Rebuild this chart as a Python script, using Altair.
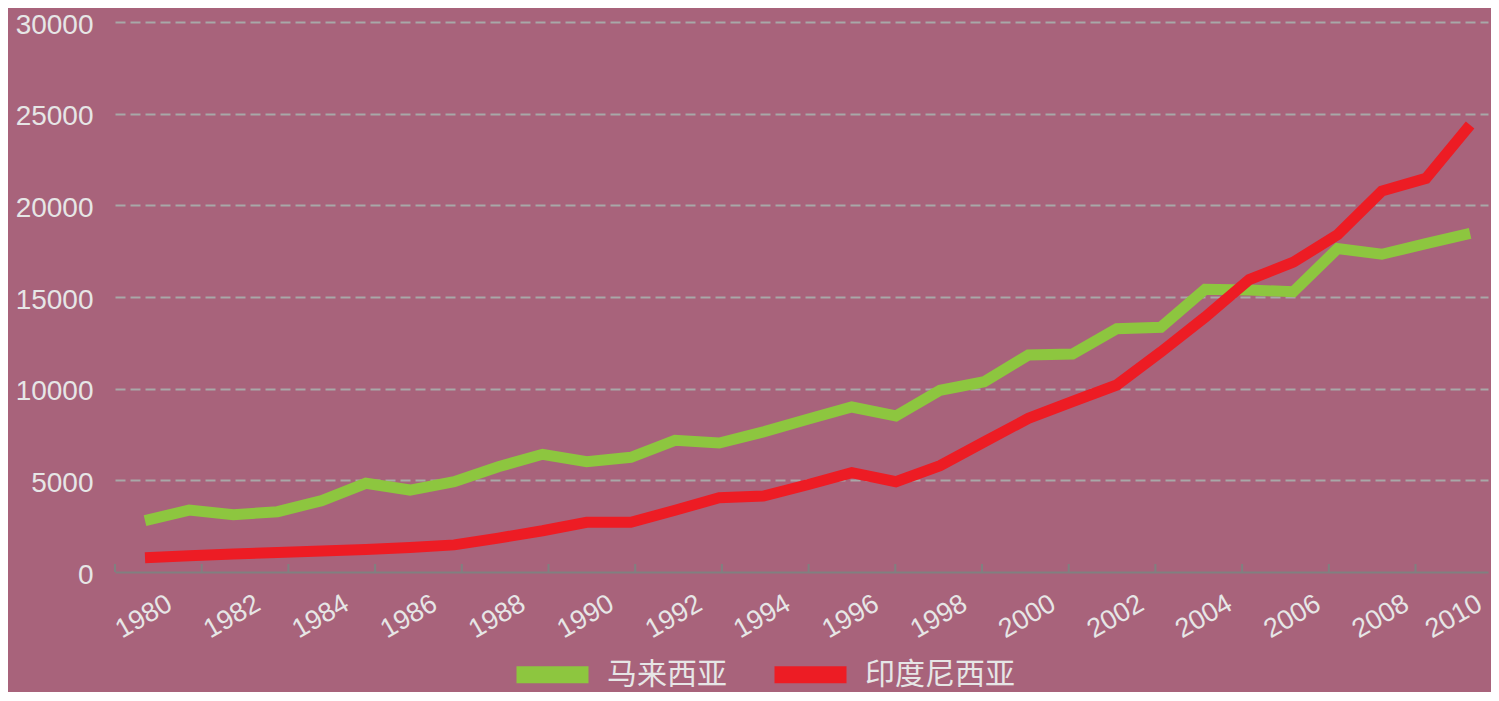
import altair as alt
import pandas as pd

# ---------------- data ----------------
years = list(range(1980, 2011))
malaysia = [2800, 3380, 3125, 3290, 3890, 4840, 4470, 4925, 5745, 6420,
            6020, 6255, 7180, 7035, 7640, 8330, 9000, 8510, 9910, 10380,
            11840, 11890, 13270, 13350, 15420, 15380, 15290, 17640, 17330, 17910,
            18475]
indonesia = [780, 880, 980, 1060, 1140, 1230, 1340, 1480, 1850, 2250,
             2710, 2710, 3365, 4055, 4145, 4760, 5420, 4925, 5800, 7100,
             8380, 9300, 10200, 12000, 13900, 15950, 16900, 18400, 20780, 21470,
             24380]
series_names = ["马来西亚", "印度尼西亚"]
series_colors = ["#8DC63F", "#ED1C24"]
x_label_years = list(range(1980, 2011, 2))
y_tick_values = [0, 5000, 10000, 15000, 20000, 25000, 30000]
x_tick_index = list(range(16))

rows = []
for yr, m in zip(years, malaysia):
    rows.append({"year": yr, "country": series_names[0], "value": m})
for yr, v in zip(years, indonesia):
    rows.append({"year": yr, "country": series_names[1], "value": v})
df = pd.DataFrame(rows)
ticks_df = pd.DataFrame({"k": x_tick_index})

# ---------------- style ----------------
W, H = 1373, 550
BG = "#A8637B"
TEXT = "#E6E6E6"
AXIS_GRAY = "#808080"
GRID_GRAY = "#A8A8A8"
year_px = 44.17
x_left = 1980 - 30 / year_px
x_right = x_left + W / year_px
tick_px = 86.7

lines = alt.Chart(df).mark_line(strokeWidth=11).encode(
    x=alt.X(
        "year:Q",
        scale=alt.Scale(domain=[x_left, x_right], nice=False, zero=False),
        axis=alt.Axis(
            values=x_label_years, format="d", title=None,
            labelAngle=-30, labelAlign="right", labelBaseline="top",
            labelOffset={"condition": {"test": "datum.value === 2010", "value": 3}, "value": 18},
            labelPadding=18, ticks=False, tickSize=0,
            domain=False, grid=False, labelFontSize=27,
            labelFont="Liberation Sans", labelColor=TEXT,
            labelOverlap=False, labelFlush=False, labelBound=False,
        ),
    ),
    y=alt.Y(
        "value:Q",
        scale=alt.Scale(domain=[0, 30000], nice=False),
        axis=alt.Axis(
            values=y_tick_values, format="d", title=None,
            grid=True, gridWidth=2,
            gridDash={"condition": {"test": "datum.value === 0", "value": [1, 0]}, "value": [10, 5]},
            gridColor={"condition": {"test": "datum.value === 0", "value": AXIS_GRAY}, "value": GRID_GRAY},
            ticks=False, tickSize=0, domain=False, labelPadding=22,
            labelOffset=3,
            labelFontSize=28, labelFont="Liberation Sans", labelColor=TEXT,
            labelOverlap=False,
        ),
    ),
    color=alt.Color(
        "country:N",
        scale=alt.Scale(domain=series_names, range=series_colors),
        legend=alt.Legend(
            orient="none", legendX=393, legendY=608, direction="horizontal",
            title=None, symbolType="stroke", symbolSize=5184,
            symbolStrokeWidth=17, labelFontSize=30,
            labelFont="Noto Sans CJK SC", labelColor=TEXT,
            labelOffset=10, columnPadding=13, padding=0, labelLimit=0,
        ),
    ),
    detail="country:N",
)

ticks = alt.Chart(ticks_df).mark_rule(color=AXIS_GRAY, strokeWidth=2).encode(
    x=alt.X("k:Q", scale=alt.Scale(domain=[0, W / tick_px], nice=False, zero=False), axis=None),
    y=alt.value(H - 8),
    y2=alt.value(H),
)

chart = alt.layer(lines, ticks).resolve_scale(x="independent").properties(
    width=W,
    height=H,
    padding={"left": 107, "top": 14, "right": 3, "bottom": 120},
    autosize=alt.AutoSizeParams(type="none"),
    background=BG,
).configure_view(stroke=None)

chart.save("out.html", embed_options={"renderer": "svg", "actions": False})
